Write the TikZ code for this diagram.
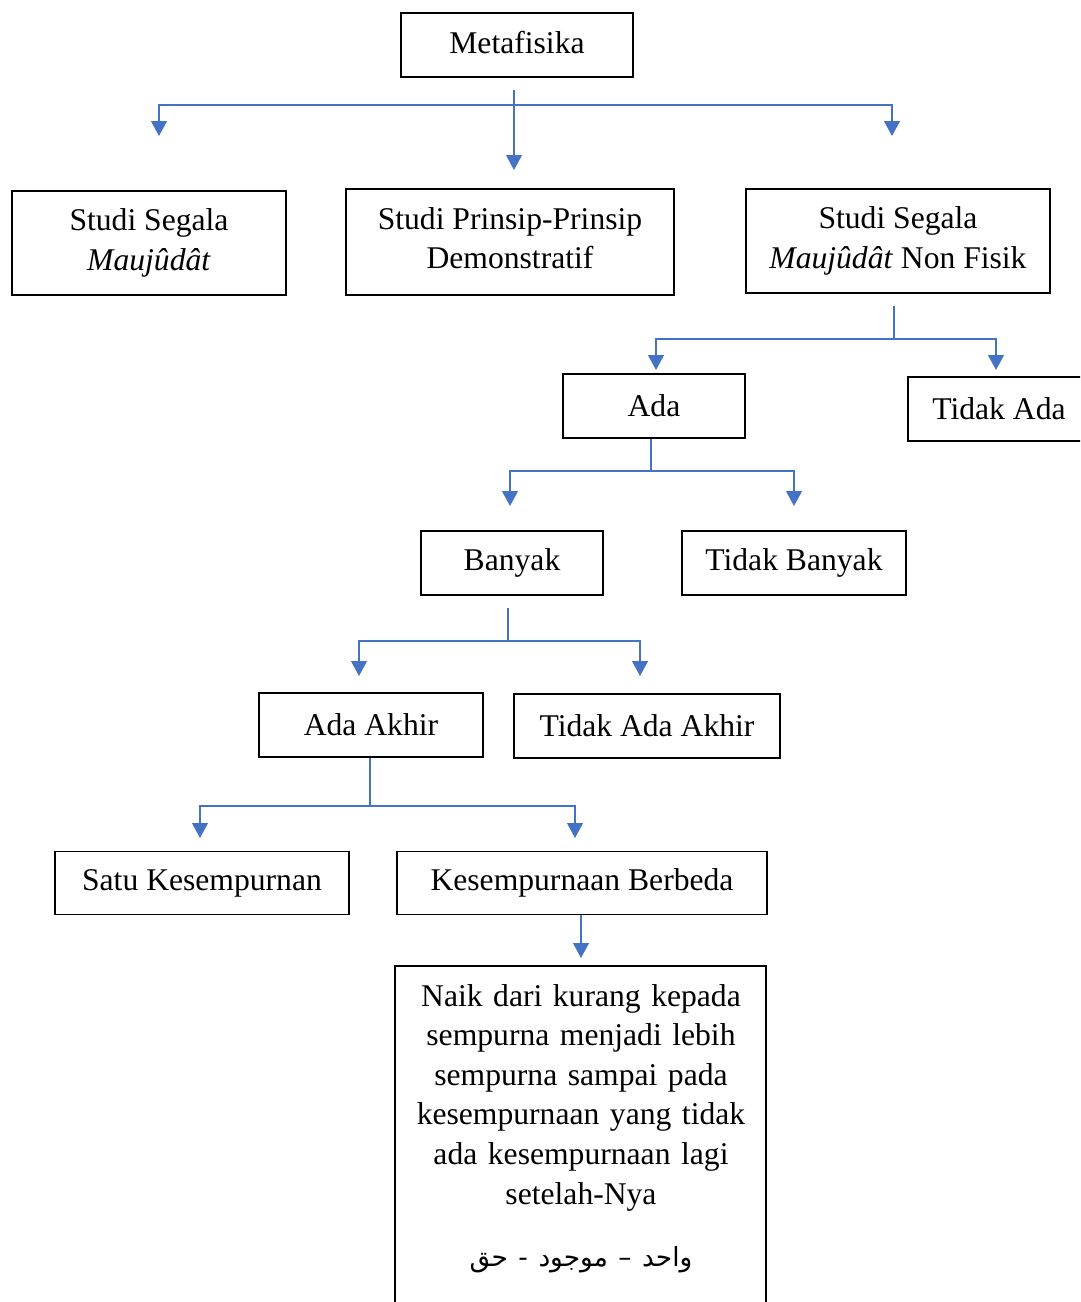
\documentclass[tikz,border=0pt]{standalone}
\usepackage{fontspec}
\setmainfont{Liberation Serif}
\newfontfamily\arabicfont[Script=Arabic]{DejaVu Sans}
\TeXXeTstate=1
\usetikzlibrary{arrows.meta}
\definecolor{biru}{HTML}{4472C4}

\begin{document}
\begin{tikzpicture}
    [x=0.02cm, y=-0.02cm,
     kotak/.style={draw=black, line width=1pt, align=center, inner sep=2pt,
                   font=\fontsize{18}{22.5}\selectfont, minimum height=1.28cm},
     wire/.style={draw=biru, line width=0.9pt},
     link/.style={wire, -{Triangle[width=9pt,length=8.5pt]}}]
    \useasboundingbox (0,0) rectangle (1080,1302);
    \clip (0,0) rectangle (1080,1302);

    % boxes
    \node[kotak, minimum width=4.64cm] (meta) at (517,45) {Metafisika\rule[-3pt]{0pt}{1pt}};
    \node[kotak, minimum width=5.48cm, minimum height=2.08cm] (seg) at (149,243)
        {Studi Segala\\\textit{Maujûdât}};
    \node[kotak, minimum width=6.56cm, minimum height=2.12cm] (prin) at (510,242)
        {Studi Prinsip-Prinsip\\Demonstratif\rule[-4.5pt]{0pt}{1pt}};
    \node[kotak, minimum width=6.08cm, minimum height=2.08cm] (nonf) at (898,241)
        {Studi Segala\\\textit{Maujûdât} Non Fisik};
    \node[kotak, minimum width=3.64cm] (ada) at (654,406) {Ada};
    \node[kotak, minimum width=3.64cm] (tada) at (999,409) {Tidak Ada};
    \node[kotak, minimum width=3.64cm] (bany) at (512,563) {Banyak};
    \node[kotak, minimum width=4.48cm] (tbany) at (794,563) {Tidak Banyak};
    \node[kotak, minimum width=4.48cm] (akhir) at (371,725) {Ada Akhir};
    \node[kotak, minimum width=5.32cm] (takhir) at (647,726) {Tidak Ada Akhir};
    \node[kotak, minimum width=5.88cm, minimum height=1.26cm] (satu) at (202,883) {Satu Kesempurnan};
    \node[kotak, minimum width=7.4cm, minimum height=1.26cm] (beda) at (582,883) {Kesempurnaan Berbeda};
    \node[kotak, draw=none, anchor=north, minimum width=7.4cm, minimum height=0pt,
          text width=6.9cm, inner ysep=10pt] (naik) at (581,966)
        {Naik dari kurang kepada\\sempurna menjadi lebih\\sempurna sampai pada\\
         kesempurnaan yang tidak\\ada kesempurnaan lagi\\setelah-Nya\\[13pt]
         {\arabicfont\fontsize{15}{20}\selectfont\beginR واحد – موجود - حق\endR}};
    \coordinate (naik-bawah) at (766,1320);
    \draw[line width=1pt] (naik.north west) rectangle (naik-bawah);

    % junctions and arrow ends
    \coordinate (meta-top) at (514,90);
    \coordinate (meta-j) at (514,105);
    \coordinate (seg-t) at (159,136);
    \coordinate (prin-t) at (514,170);
    \coordinate (nonf-t) at (892,136);
    \coordinate (nonf-j) at (894,339);
    \coordinate (ada-t) at (656,370);
    \coordinate (tada-t) at (996,370);
    \coordinate (ada-j) at (651,471);
    \coordinate (bany-t) at (510,506);
    \coordinate (tbany-t) at (794,506);
    \coordinate (bany-j) at (508,641);
    \coordinate (akhir-t) at (359,676);
    \coordinate (takhir-t) at (640,676);
    \coordinate (akhir-j) at (370,806);
    \coordinate (satu-t) at (200,838);
    \coordinate (beda-t) at (575,838);

    % connectors
    \draw[link] (meta-top) -- (prin-t);
    \draw[link] (meta-j) -| (seg-t);
    \draw[link] (meta-j) -| (nonf-t);
    \draw[wire, shorten <=0.24cm] (nonf-j |- nonf.south) -- (nonf-j);
    \draw[link] (nonf-j) -| (ada-t);
    \draw[link] (nonf-j) -| (tada-t);
    \draw[wire] (ada-j |- ada.south) -- (ada-j);
    \draw[link] (ada-j) -| (bany-t);
    \draw[link] (ada-j) -| (tbany-t);
    \draw[wire, shorten <=0.24cm] (bany-j |- bany.south) -- (bany-j);
    \draw[link] (bany-j) -| (akhir-t);
    \draw[link] (bany-j) -| (takhir-t);
    \draw[wire] (akhir-j |- akhir.south) -- (akhir-j);
    \draw[link] (akhir-j) -| (satu-t);
    \draw[link] (akhir-j) -| (beda-t);
    \draw[link, shorten >=0.16cm] (beda.south -| naik.north) -- (naik.north);
\end{tikzpicture}
\end{document}
